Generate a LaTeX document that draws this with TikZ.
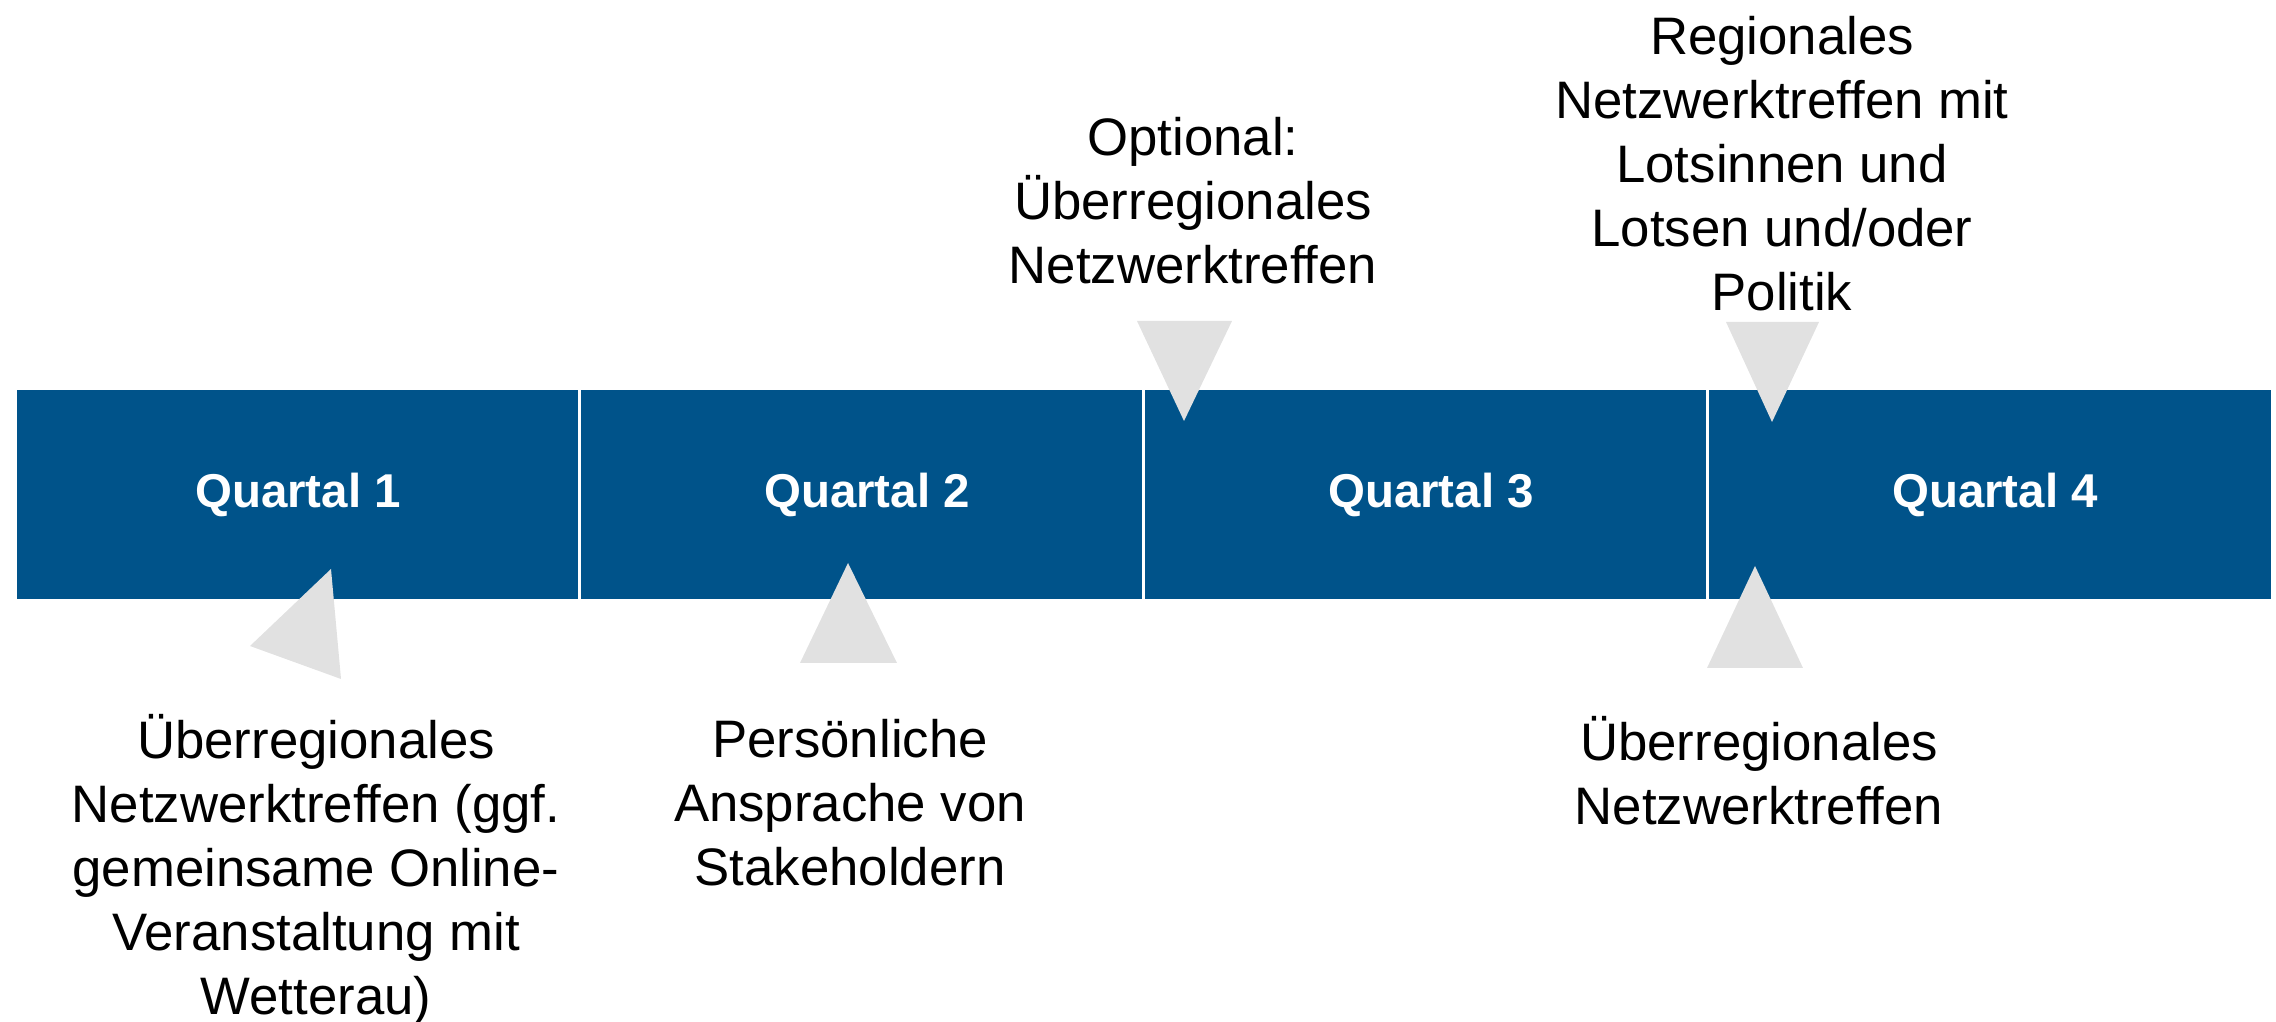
\documentclass[tikz,border=0pt]{standalone}
\usepackage{fontspec}
\setmainfont{Liberation Sans}
\definecolor{barblue}{RGB}{0,83,138}
\definecolor{tipgray}{RGB}{225,225,225}

\begin{document}
\begin{tikzpicture}[x=0.01cm, y=-0.01cm,
quarter/.style = {rectangle, fill = barblue, draw = white, line width = 0.8pt,
  minimum width = 5.64cm, minimum height = 2.11cm, inner sep = 0pt,
  text = white, font = \fontsize{13.5}{16}\selectfont\bfseries},
note/.style = {align = center, inner sep = 0pt, font = \fontsize{15}{18.2}\selectfont},
tri/.style = {fill = tipgray}]

\useasboundingbox (0,0) rectangle (2276,1022);

% the four quarters
\node[quarter] (q-1) at (298, 494.5) {Quartal 1};
\node[quarter] (q-2) at (862, 494.5) {\hspace{0.1cm}Quartal 2};
\node[quarter] (q-3) at (1426, 494.5) {\hspace{0.1cm}Quartal 3};
\node[quarter] (q-4) at (1990, 494.5) {\hspace{0.1cm}Quartal 4};

% pointers
\fill[tri] (331,569) -- (250,646) -- (341,679) -- cycle;
\fill[tri] (848,563) -- (800,663) -- (897,663) -- cycle;
\fill[tri] (1137,321) -- (1232,321) -- (1184,421) -- cycle;
\fill[tri] (1726,322) -- (1819,322) -- (1772,422) -- cycle;
\fill[tri] (1755,566) -- (1707,668) -- (1803,668) -- cycle;

% events
\node[note] (e-1) at (316, 870) {Überregionales\\Netzwerktreffen (ggf.\\gemeinsame Online-\\Veranstaltung mit\\Wetterau)};
\node[note] (e-2) at (850, 803) {Persönliche\\Ansprache von\\Stakeholdern};
\node[note] (e-3) at (1193, 201) {Optional:\\Überregionales\\Netzwerktreffen};
\node[note] (e-4) at (1782, 164) {Regionales\\Netzwerktreffen mit\\Lotsinnen und\\Lotsen und/oder\\Politik};
\node[note] (e-5) at (1759, 771) {Überregionales\\Netzwerktreffen};

\end{tikzpicture}
\end{document}
